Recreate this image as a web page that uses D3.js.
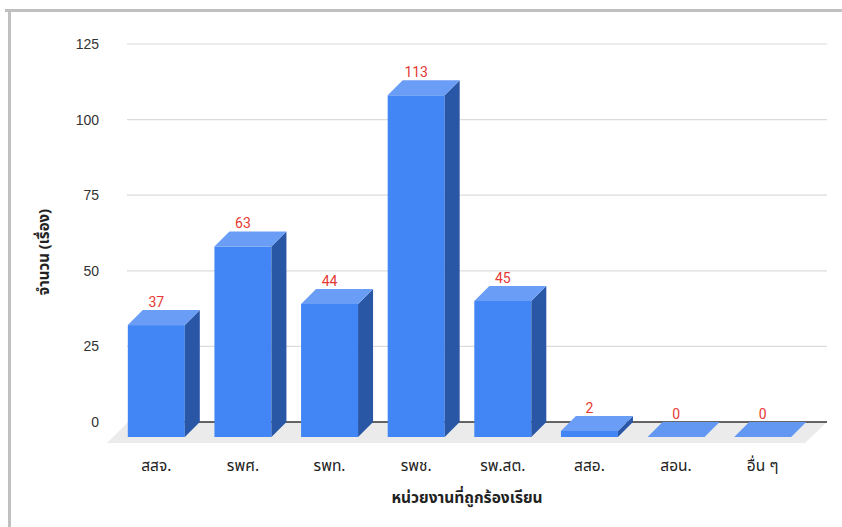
<!DOCTYPE html>
<html>
<head>
<meta charset="utf-8">
<script src="https://cdn.jsdelivr.net/npm/d3@7"></script>
<style>
  html, body { margin: 0; padding: 0; background: #fff; }
  svg { display: block; }
</style>
</head>
<body>
<svg id="chart" width="842" height="527"></svg>
<script>
// Complaints per agency
const categories = ["สสจ.", "รพศ.", "รพท.", "รพช.", "รพ.สต.", "สสอ.", "สอน.", "อื่น ๆ"];
const values = [37, 63, 44, 113, 45, 2, 0, 0];
const yTicks = [0, 25, 50, 75, 100, 125];
const xTitle = "หน่วยงานที่ถูกร้องเรียน";
const yTitle = "จำนวน (เรื่อง)";

const svg = d3.select("#chart");
const W = 842, H = 527;

// 3D depth offset between back plane and front plane
const DX = 15, DY = 15;

const x = d3.scaleBand().domain(categories).range([128, 821]).paddingInner(0.342).paddingOuter(0.171);
const y = d3.scaleLinear().domain([0, 125]).range([422, 44]);

const colFront = "#4285f4", colTop = "#6a9df6", colSide = "#2a56a6", colFlat = "#6298f2";
const thaiFont = "'Noto Sans Thai', 'Noto Sans', 'Liberation Sans', Arial, sans-serif";

// frame
svg.append("rect").attr("x", 0).attr("y", 0).attr("width", W).attr("height", H).attr("fill", "#fff");
svg.append("rect").attr("x", 5).attr("y", 9).attr("width", W - 5).attr("height", 3).attr("fill", "#c0c0c0");
svg.append("rect").attr("x", 8).attr("y", 9).attr("width", 3).attr("height", H - 9).attr("fill", "#c0c0c0");

// gridlines
svg.append("g").selectAll("line").data(yTicks.filter(d => d > 0)).join("line")
  .attr("x1", 127).attr("x2", 827)
  .attr("y1", d => y(d)).attr("y2", d => y(d))
  .attr("stroke", "#dcdcdc").attr("stroke-width", 1.2);

// y tick labels
svg.append("g").selectAll("text").data(yTicks).join("text")
  .attr("x", 99).attr("y", d => y(d))
  .attr("text-anchor", "end").attr("dominant-baseline", "central")
  .attr("font-family", "'Liberation Sans', Arial, sans-serif").attr("font-size", 14)
  .attr("fill", "#333").text(d => d);

// floor
const x0 = 128, x1 = 827, yb = y(0);
svg.append("path")
  .attr("d", `M${x0},${yb}L${x1},${yb}L${x1 - 22},${yb + 21}L${x0 - 21},${yb + 21}Z`)
  .attr("fill", "#ebebeb");
svg.append("line").attr("x1", x0).attr("x2", x1).attr("y1", yb).attr("y2", yb)
  .attr("stroke", "#333").attr("stroke-width", 1.3);

// bars
const bars = svg.append("g");
categories.forEach((c, i) => {
  const v = values[i];
  const bx = x(c), bw = x.bandwidth();
  const yTopBack = y(v);
  const fx = bx - DX, fyTop = yTopBack + DY, fyBot = yb + DY;
  if (v === 0) {
    bars.append("path")
      .attr("d", `M${fx},${fyBot}L${bx},${yb}L${bx + bw},${yb}L${fx + bw},${fyBot}Z`)
      .attr("fill", colFlat);
    return;
  }
  // front face
  bars.append("rect").attr("x", fx).attr("y", fyTop).attr("width", bw).attr("height", fyBot - fyTop)
    .attr("fill", colFront);
  // side face
  bars.append("path")
    .attr("d", `M${fx + bw},${fyTop}L${bx + bw},${yTopBack}L${bx + bw},${yb}L${fx + bw},${fyBot}Z`)
    .attr("fill", colSide);
  // top face
  bars.append("path")
    .attr("d", `M${fx},${fyTop}L${bx},${yTopBack}L${bx + bw},${yTopBack}L${fx + bw},${fyTop}Z`)
    .attr("fill", colTop);
});

// value labels
svg.append("g").selectAll("text").data(categories).join("text")
  .attr("x", c => x(c) - DX + x.bandwidth() / 2)
  .attr("y", (c, i) => y(values[i]) - 3)
  .attr("text-anchor", "middle")
  .attr("font-family", "Roboto, 'Liberation Sans', Arial, sans-serif").attr("font-size", 14)
  .attr("fill", "#e53935").text((c, i) => values[i]);

// category labels
svg.append("g").selectAll("text").data(categories).join("text")
  .attr("x", c => x(c) - DX + x.bandwidth() / 2)
  .attr("y", 466)
  .attr("text-anchor", "middle").attr("dominant-baseline", "central")
  .attr("font-family", thaiFont).attr("font-size", 15.5)
  .attr("fill", "#222").text(c => c);

// axis titles
svg.append("text").attr("x", 467).attr("y", 498)
  .attr("text-anchor", "middle").attr("dominant-baseline", "central")
  .attr("font-family", thaiFont)
  .attr("font-size", 15.5).attr("font-weight", "bold").attr("fill", "#222").text(xTitle);

svg.append("text").attr("transform", "translate(44,252) rotate(-90)")
  .attr("text-anchor", "middle").attr("dominant-baseline", "central")
  .attr("font-family", thaiFont)
  .attr("font-size", 15).attr("font-weight", "bold").attr("fill", "#222").text(yTitle);
</script>
</body>
</html>
